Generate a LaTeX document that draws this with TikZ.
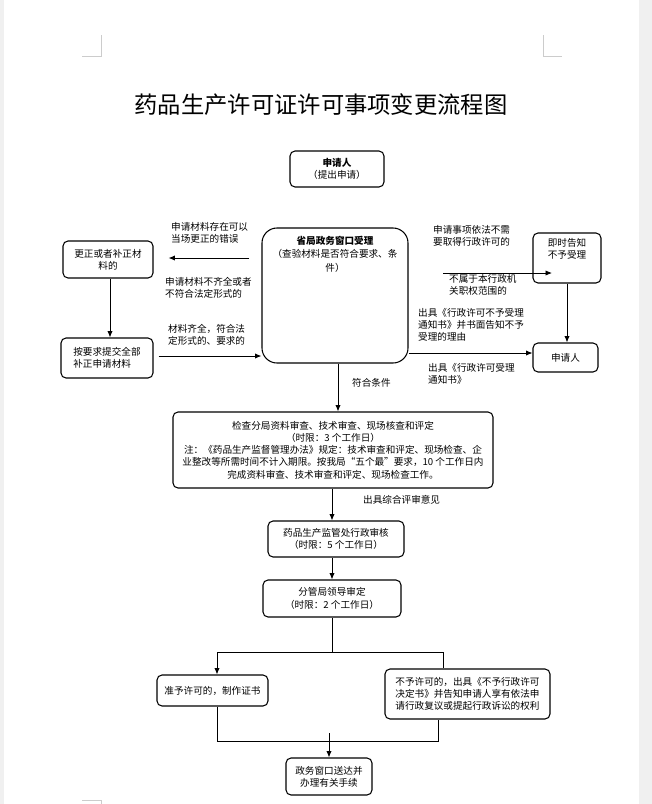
\documentclass[tikz,border=0pt]{standalone}
\usepackage{fontspec}
\setmainfont{Noto Sans CJK SC}
\usetikzlibrary{arrows.meta, positioning}

\begin{document}
\begin{tikzpicture}[x=0.03cm, y=-0.03cm,
    >={Latex[length=5.5pt,width=4.5pt]},
    box/.style={draw, line width=0.9pt, rounded corners=0.15cm, align=center, inner sep=0pt, font=\fontsize{8.2pt}{10.5pt}\selectfont},
    txt/.style={align=center, inner sep=0pt, font=\fontsize{8.2pt}{10.5pt}\selectfont},
    lbl/.style={align=left, anchor=north west, inner sep=0pt, font=\fontsize{8.2pt}{10.3pt}\selectfont},
    link/.style={line width=0.7pt}]

    % Page
    \useasboundingbox (0,0) rectangle (652,804);
    \fill[gray!12] (0,0) rectangle (4,804);
    \fill[gray!12] (639,0) rectangle (652,804);
    \draw[gray!40, line width=0.5pt] (101,35) -- (101,56) -- (82,56);
    \draw[gray!40, line width=0.5pt] (543,35) -- (543,56) -- (562,56);
    \draw[gray!40, line width=0.5pt] (82,800) -- (101,800) -- (101,804);

    % Title
    \node[inner sep=0pt, font=\fontsize{19.9pt}{24pt}\selectfont] (title) at (321,105) {药品生产许可证许可事项变更流程图};

    % Boxes
    \node[box, minimum width=2.82cm, minimum height=1.08cm] (app) at (337,169) {\textbf{申请人}\\（提出申请）};
    \node[box, minimum width=2.7cm, minimum height=1.11cm] (fix) at (108,259.5) {更正或者补正材\\料的};
    \node[box, minimum width=2.76cm, minimum height=1.2cm, align=left] (resub) at (107,358) {按要求提交全部\\补正申请材料};
    \node[box, rounded corners=0.45cm, minimum width=4.38cm, minimum height=4.05cm] (accept) at (335,295.5) {};
    \node[txt, below=0.25cm of accept.north] (accepttxt) {\textbf{省局政务窗口受理}\\[1pt]（查验材料是否符合要求、条\\[1pt]件）};
    \node[box, minimum width=2.04cm, minimum height=1.5cm] (notice) at (567,258) {};
    \node[txt, below=0.17cm of notice.north] (noticetxt) {即时告知\\不予受理};
    \node[box, minimum width=1.95cm, minimum height=0.87cm] (appR) at (565.5,357.5) {申请人};
    \node[box, minimum width=9.6cm, minimum height=2.28cm] (check) at (333,450) {检查分局资料审查、技术审查、现场核查和评定\\（时限：3 个工作日）\\注：《药品生产监督管理办法》规定：技术审查和评定、现场检查、企\\业整改等所需时间不计入期限。按我局“五个最”要求，10 个工作日内\\完成资料审查、技术审查和评定、现场检查工作。};
    \node[box, minimum width=4.08cm, minimum height=1.08cm] (review) at (336,539) {药品生产监管处行政审核\\（时限：5 个工作日）};
    \node[box, minimum width=4.14cm, minimum height=1.11cm] (decide) at (332,598.5) {分管局领导审定\\（时限：2 个工作日）};
    \node[box, minimum width=3.33cm, minimum height=0.93cm] (grant) at (212.5,690.5) {准予许可的，制作证书};
    \node[box, minimum width=4.95cm, minimum height=1.5cm, align=left] (deny) at (467.5,694) {不予许可的，出具《不予行政许可\\决定书》并告知申请人享有依法申\\请行政复议或提起行政诉讼的权利};
    \node[box, minimum width=2.58cm, minimum height=1.11cm] (deliver) at (329,776.5) {政务窗口送达并\\办理有关手续};

    % Labels
    \node[lbl] (lblfix) at (171,222) {申请材料存在可以\\当场更正的错误};
    \node[lbl] (lblform) at (165,277) {申请材料不齐全或者\\不符合法定形式的};
    \node[lbl] (lblok) at (168,324) {材料齐全，符合法\\定形式的、要求的};
    \node[lbl] (lblnone) at (433,225) {申请事项依法不需\\要取得行政许可的};
    \node[lbl] (lblscope) at (449,274) {不属于本行政机\\关职权范围的};
    \node[lbl] (lblrej) at (418,308) {出具《行政许可不予受理\\通知书》并书面告知不予\\受理的理由};
    \node[lbl] (lblacc) at (428,363) {出具《行政许可受理\\通知书》};
    \node[lbl] (lblcond) at (352,378) {符合条件};
    \node[lbl] (lblopin) at (363,495) {出具综合评审意见};

    % Acceptance branch
    \draw[link, ->, shorten <=0.36cm, shorten >=0.45cm] (accept.west |- 0,258) -- (fix.east |- 0,258);
    \draw[link, ->] (fix.south -| 110,0) -- (resub.north -| 110,0);
    \draw[link, ->, shorten <=0.15cm] (resub.east |- 0,356) -- (accept.west |- 0,356);
    \coordinate (nqstart) at (443,273);
    \coordinate (nqend) at (552,273);
    \draw[link, ->] (nqstart) -- (nqend);
    \draw[link, ->] (notice.south -| 567,0) -- (appR.north -| 567,0);
    \draw[link, ->] (accept.east |- 0,353) -- (appR.west |- 0,353);

    % Review chain
    \draw[link, ->] (accept.south -| 338,0) -- (check.north -| 338,0);
    \draw[link, ->] (check.south -| 332,0) -- (review.north -| 332,0);
    \draw[link, ->] (review.south -| 332,0) -- (decide.north -| 332,0);

    % Decision
    \coordinate (split) at (332,652);
    \draw[link] (decide.south -| split) -- (split);
    \draw[link, ->] (split) -| (grant.north -| 217,0);
    \draw[link] (split) -| (deny.north -| 443,0);
    \coordinate (merge) at (329,741);
    \coordinate (mergetop) at (329,733);
    \draw[link] (grant.south -| 217,0) |- (merge) -| (deny.south -| 438,0);
    \draw[link, ->] (mergetop) -- (deliver.north -| mergetop);
\end{tikzpicture}
\end{document}
